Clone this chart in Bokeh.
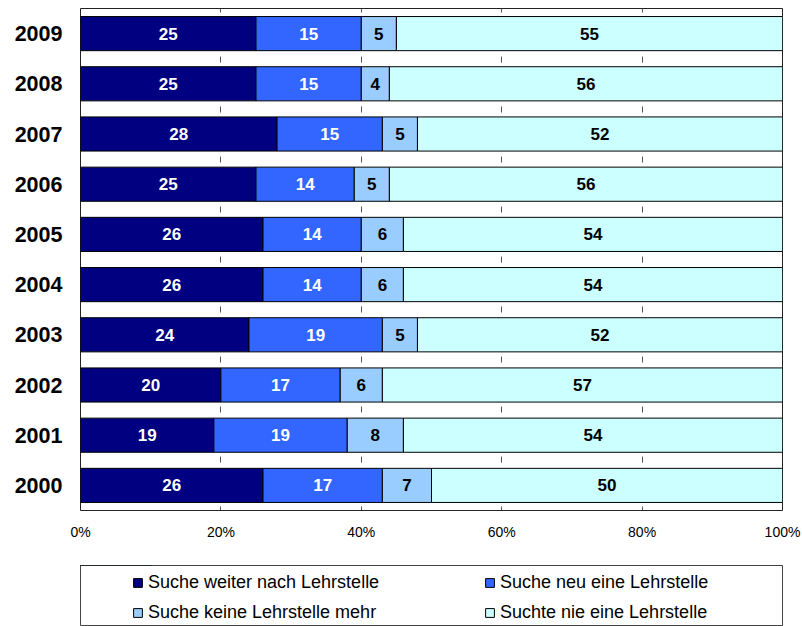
from bokeh.plotting import figure
from bokeh.models import (ColumnDataSource, FactorRange, Range1d, FixedTicker,
                          PrintfTickFormatter, Legend, LegendItem)
from bokeh.layouts import column
from bokeh.embed import file_html
from bokeh.resources import INLINE
from bokeh.core.properties import value

# ---------------- data ----------------
years = ["2000", "2001", "2002", "2003", "2004", "2005", "2006", "2007", "2008", "2009"]
weiter = [26, 19, 20, 24, 26, 26, 25, 28, 25, 25]
neu = [17, 19, 17, 19, 14, 14, 14, 15, 15, 15]
keine = [7, 8, 6, 5, 6, 6, 5, 5, 4, 5]
nie = [50, 54, 57, 52, 54, 54, 56, 52, 56, 55]

series_names = ["Suche weiter nach Lehrstelle", "Suche neu eine Lehrstelle",
                "Suche keine Lehrstelle mehr", "Suchte nie eine Lehrstelle"]
series_values = [weiter, neu, keine, nie]
series_colors = ["#000080", "#3366FF", "#99CCFF", "#CCFFFF"]
label_colors = ["white", "white", "black", "black"]
x_ticks = [0, 20, 40, 60, 80, 100]

FONT = "Liberation Sans"

# ---------------- main chart ----------------
p = figure(width=802, height=556, y_range=FactorRange(factors=years),
           x_range=Range1d(0, 100), output_backend="svg", toolbar_location=None,
           min_border_left=80, min_border_right=19, min_border_top=8,
           min_border_bottom=46)
p.background_fill_color = "white"
p.border_fill_color = "white"
p.outline_line_color = "#222222"
p.outline_line_width = 1

p.ygrid.visible = False
p.xgrid.grid_line_color = "#555555"
p.xgrid.grid_line_width = 1
p.xgrid.grid_line_dash = "6 44"
p.xgrid.grid_line_dash_offset = 2
p.xaxis.ticker = FixedTicker(ticks=x_ticks)
p.xaxis.formatter = PrintfTickFormatter(format="%d%%")
p.xaxis.axis_line_color = None
p.xaxis.major_tick_line_color = None
p.xaxis.minor_tick_line_color = None
p.xaxis.major_tick_out = 0
p.xaxis.major_label_standoff = 13
p.xaxis.major_label_text_font = FONT
p.xaxis.major_label_text_font_size = "14px"
p.xaxis.major_label_text_color = "black"

p.yaxis.axis_line_color = None
p.yaxis.major_tick_line_color = None
p.yaxis.minor_tick_line_color = None
p.yaxis.major_tick_out = 0
p.yaxis.major_label_standoff = 18
p.yaxis.major_label_text_font = FONT
p.yaxis.major_label_text_font_style = "bold"
p.yaxis.major_label_text_font_size = "21.5px"
p.yaxis.major_label_text_color = "black"

left = [0] * len(years)
for vals, col, lcol in zip(series_values, series_colors, label_colors):
    right = [l + v for l, v in zip(left, vals)]
    src = ColumnDataSource(dict(
        year=years, left=left, right=right,
        mid=[(l + r) / 2 for l, r in zip(left, right)],
        lab=[str(v) for v in vals]))
    p.hbar(y="year", left="left", right="right", height=0.68, source=src,
           fill_color=col, line_color="black", line_width=1)
    p.text(x="mid", y="year", text="lab", source=src, text_align="center",
           text_baseline="middle", text_font=value(FONT), text_font_style="bold",
           text_font_size="17px", text_color=lcol)
    left = right

# ---------------- legend box ----------------
p2 = figure(width=802, height=70, x_range=Range1d(0, 1), y_range=Range1d(0, 1),
            output_backend="svg", toolbar_location=None,
            x_axis_location=None, y_axis_location=None,
            min_border=0, min_border_left=80, min_border_right=20,
            min_border_top=9, min_border_bottom=0)
p2.grid.visible = False
p2.outline_line_color = "#444444"
p2.outline_line_width = 1
p2.background_fill_color = "white"
p2.border_fill_color = "white"

items = []
for name, col in zip(series_names, series_colors):
    # legend-only renderer, placed outside the visible range of this box
    r = p2.hbar(y=[5], left=[0], right=[0.1], height=0.5, fill_color=col,
                line_color="black", line_width=1)
    items.append(LegendItem(label=name, renderers=[r]))


def make_legend(its, x):
    lg = Legend(items=its, location=(x, 3), orientation="vertical",
                padding=0, margin=0, spacing=9, glyph_width=11, glyph_height=11,
                label_height=21, label_standoff=5, label_text_font=FONT,
                label_text_font_size="18px", label_text_color="black",
                border_line_color=None, background_fill_alpha=0)
    return lg


p2.add_layout(make_legend([items[0], items[2]], 52))
p2.add_layout(make_legend([items[1], items[3]], 404))

layout = column(p, p2, spacing=0)
open("out.html", "w").write(file_html(layout, INLINE))
